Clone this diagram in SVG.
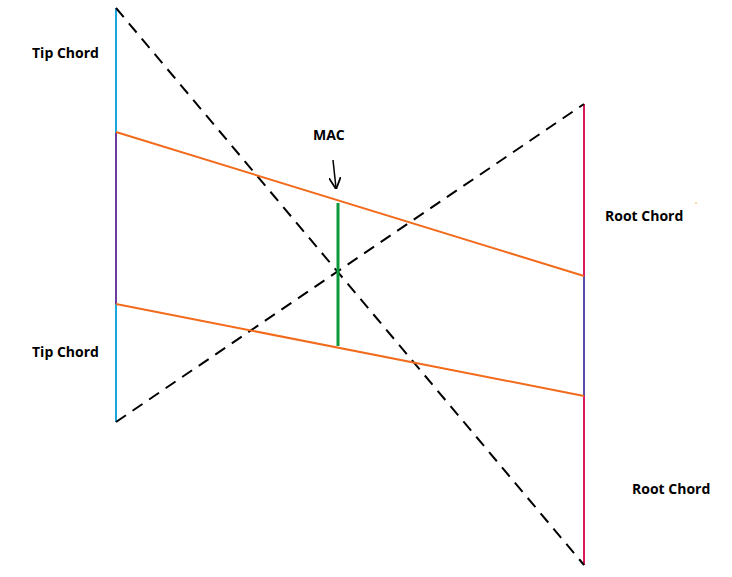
<svg xmlns="http://www.w3.org/2000/svg" width="732" height="577" viewBox="0 0 732 577">
<style>
text{font-family:"Open Sans","Liberation Sans",sans-serif;font-weight:bold;font-size:14px;fill:#000}
.d{stroke:#000;stroke-width:2;stroke-dasharray:12,8;fill:none}
.o{stroke:#f26a1b;stroke-width:2}
</style>
<defs><marker id="a" viewBox="0 0 10 10" refX="9" refY="5" markerWidth="8" markerHeight="8" orient="auto"><path d="M0,0L10,5L0,10" fill="none" stroke="#000" stroke-width="1.5"/></marker></defs>
<rect width="732" height="577" fill="#fff"/>
<g id="left">
<line x1="116" y1="8" x2="116" y2="133" stroke="#1aa7de" stroke-width="2"/>
<line x1="116" y1="133" x2="116" y2="304" stroke="#6a3d9a" stroke-width="2"/>
<line x1="116" y1="304" x2="116" y2="422" stroke="#1aa7de" stroke-width="2"/>
</g>
<g id="right">
<line x1="584" y1="104" x2="584" y2="276" stroke="#d81b60" stroke-width="2"/>
<line x1="584" y1="276" x2="584" y2="396" stroke="#5c4bb0" stroke-width="2"/>
<line x1="584" y1="396" x2="584" y2="565" stroke="#d81b60" stroke-width="2"/>
</g>
<g id="connectors">
<line class="d" x1="116" y1="8" x2="584" y2="565"/>
<line class="d" x1="116" y1="422" x2="584" y2="104"/>
<line class="o" x1="116" y1="132" x2="584" y2="276"/>
<line class="o" x1="116" y1="304" x2="584" y2="396"/>
<line x1="338" y1="203" x2="338" y2="346" stroke="#0a9a3a" stroke-width="3"/>
<line x1="333" y1="160" x2="336" y2="188" stroke="#000" stroke-width="1.5" marker-end="url(#a)"/>
</g>
<g id="labels">
<text x="32" y="58">Tip Chord</text>
<text x="32" y="357">Tip Chord</text>
<text x="313" y="140">MAC</text>
<text x="605" y="221">Root Chord</text>
<text x="632" y="494">Root Chord</text>
</g>
<circle cx="696" cy="203" r="0.8" fill="#f5a623"/>
</svg>
